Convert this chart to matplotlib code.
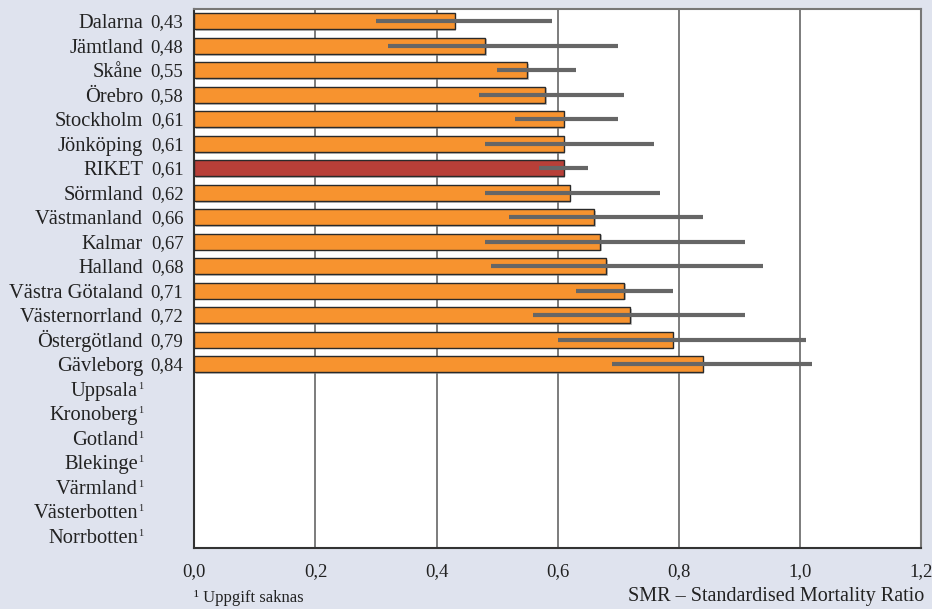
import matplotlib
matplotlib.use("Agg")
import matplotlib.pyplot as plt
import matplotlib.patheffects as pe
import matplotlib.transforms as mtrans
import numpy as np

regions = ["Dalarna", "Jämtland", "Skåne", "Örebro", "Stockholm", "Jönköping", "RIKET",
           "Sörmland", "Västmanland", "Kalmar", "Halland", "Västra Götaland",
           "Västernorrland", "Östergötland", "Gävleborg",
           "Uppsala", "Kronoberg", "Gotland", "Blekinge", "Värmland", "Västerbotten", "Norrbotten"]
smr = [0.43, 0.48, 0.55, 0.58, 0.61, 0.61, 0.61, 0.62, 0.66, 0.67, 0.68, 0.71, 0.72, 0.79, 0.84,
       None, None, None, None, None, None, None]
ci_low = [0.30, 0.32, 0.50, 0.47, 0.53, 0.48, 0.57, 0.48, 0.52, 0.48, 0.49, 0.63, 0.56, 0.60, 0.69,
          None, None, None, None, None, None, None]
ci_high = [0.59, 0.70, 0.63, 0.71, 0.70, 0.76, 0.65, 0.77, 0.84, 0.91, 0.94, 0.79, 0.91, 1.01, 1.02,
           None, None, None, None, None, None, None]
xticks = [0.0, 0.2, 0.4, 0.6, 0.8, 1.0, 1.2]
xticklabels = ["0,0", "0,2", "0,4", "0,6", "0,8", "1,0", "1,2"]

BG = "#dfe3ee"
ORANGE = "#f7932f"
RED = "#b83f38"
GRAY = "#666666"
TXT = "#222222"
FS = 14.8
FS_NUM = 13.5

plt.rcParams['font.family'] = ['Liberation Serif', 'DejaVu Serif']

fig = plt.figure(figsize=(9.32, 6.09), dpi=100, facecolor=BG)
ax = fig.add_axes([0.2086, 0.1002, 0.9879 - 0.2086, 0.9852 - 0.1002])
ax.set_facecolor("white")

n = len(regions)
ytr = ax.get_yaxis_transform()
def shifted(dx_pt, dy_pt):
    return ytr + mtrans.ScaledTranslation(dx_pt / 72, dy_pt / 72, fig.dpi_scale_trans)

name_x = -0.0708
name_dy = -0.331 * FS
num_dy = -0.331 * FS_NUM
for i, (r, v, lo, hi) in enumerate(zip(regions, smr, ci_low, ci_high)):
    if v is not None:
        col = RED if r == "RIKET" else ORANGE
        b = ax.barh(i, v, height=0.66, color=col, edgecolor="#2a2a2a", linewidth=1.0, zorder=3)
        for p in b.patches:
            p.set_path_effects([pe.SimplePatchShadow(offset=(1.2, -1.2), shadow_rgbFace="#888888", alpha=0.5),
                                pe.Normal()])
        ax.hlines(i, lo, hi, color=GRAY, linewidth=3.0, zorder=4)
        ax.text(-0.0151, i, f"{v:.2f}".replace(".", ","), transform=shifted(0, num_dy),
                ha="right", va="baseline", fontsize=FS_NUM, color=TXT)
        ax.text(name_x, i, r, transform=shifted(0, name_dy), ha="right", va="baseline",
                fontsize=FS, color=TXT)
    else:
        ax.text(name_x, i, "1", transform=shifted(0, name_dy + 5.0), ha="right", va="baseline",
                fontsize=7.5, color=TXT)
        ax.text(name_x, i, r, transform=shifted(-3.6, name_dy), ha="right", va="baseline",
                fontsize=FS, color=TXT)

ax.set_ylim(n - 0.5, -0.5)
ax.set_xlim(0, 1.2)
ax.set_yticks([])
ax.set_xticks(xticks)
ax.set_xticklabels(xticklabels, fontsize=13.5, color=TXT)
ax.tick_params(axis="x", length=0, pad=11)
for x in xticks[1:-1]:
    ax.axvline(x, color=GRAY, linewidth=1.2, zorder=1)

for s in ["top", "right"]:
    ax.spines[s].set_color("#777777")
    ax.spines[s].set_linewidth(1.5)
for s in ["left", "bottom"]:
    ax.spines[s].set_color("#333333")
    ax.spines[s].set_linewidth(1.5)

fig.text(194 / 932, 1 - 598 / 609, "¹ Uppgift saknas", ha="left", va="center", fontsize=12, color=TXT)
fig.text(924 / 932, 1 - 597 / 609, "SMR – Standardised Mortality Ratio", ha="right", va="center",
         fontsize=14.5, color=TXT)

fig.savefig("out.png", dpi=100, facecolor=BG)
